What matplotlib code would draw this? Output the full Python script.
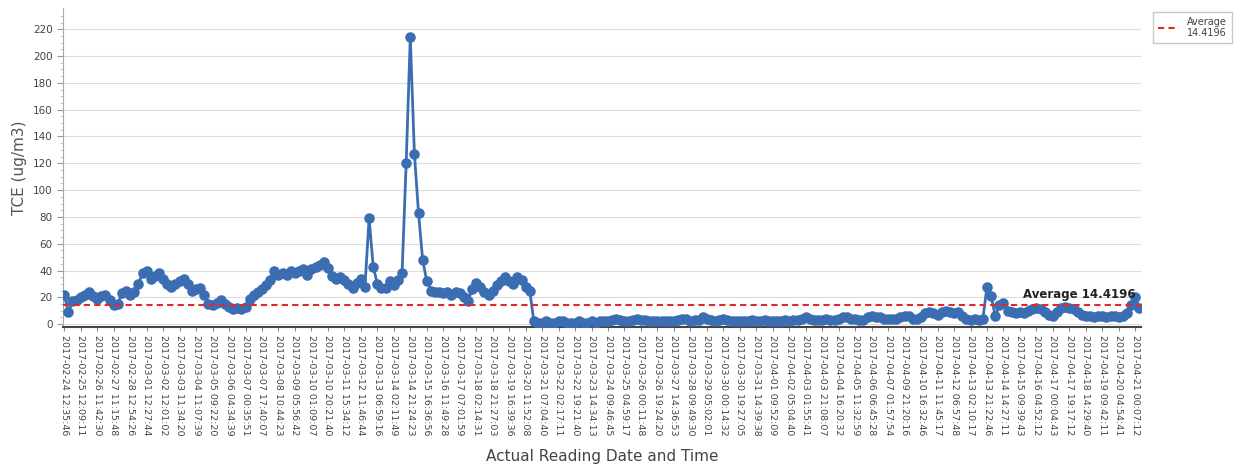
import matplotlib.pyplot as plt
import numpy as np

# tick labels (every 4th reading is labelled)
tick_labels = [
    '2017-02-24 12:35:46', '2017-02-25 12:09:11', '2017-02-26 11:42:30', '2017-02-27 11:15:48',
    '2017-02-28 12:54:26', '2017-03-01 12:27:44', '2017-03-02 12:01:02', '2017-03-03 11:34:20',
    '2017-03-04 11:07:39', '2017-03-05 09:22:20', '2017-03-06 04:34:39', '2017-03-07 00:35:51',
    '2017-03-07 17:40:07', '2017-03-08 10:44:23', '2017-03-09 05:56:42', '2017-03-10 01:09:07',
    '2017-03-10 20:21:40', '2017-03-11 15:34:12', '2017-03-12 11:46:44', '2017-03-13 06:59:16',
    '2017-03-14 02:11:49', '2017-03-14 21:24:23', '2017-03-15 16:36:56', '2017-03-16 11:49:28',
    '2017-03-17 07:01:59', '2017-03-18 02:14:31', '2017-03-18 21:27:03', '2017-03-19 16:39:36',
    '2017-03-20 11:52:08', '2017-03-21 07:04:40', '2017-03-22 02:17:11', '2017-03-22 19:21:40',
    '2017-03-23 14:34:13', '2017-03-24 09:46:45', '2017-03-25 04:59:17', '2017-03-26 00:11:48',
    '2017-03-26 19:24:20', '2017-03-27 14:36:53', '2017-03-28 09:49:30', '2017-03-29 05:02:01',
    '2017-03-30 00:14:32', '2017-03-30 19:27:05', '2017-03-31 14:39:38', '2017-04-01 09:52:09',
    '2017-04-02 05:04:40', '2017-04-03 01:55:41', '2017-04-03 21:08:07', '2017-04-04 16:20:32',
    '2017-04-05 11:32:59', '2017-04-06 06:45:28', '2017-04-07 01:57:54', '2017-04-09 21:20:16',
    '2017-04-10 16:32:46', '2017-04-11 11:45:17', '2017-04-12 06:57:48', '2017-04-13 02:10:17',
    '2017-04-13 21:22:46', '2017-04-14 14:27:11', '2017-04-15 09:39:43', '2017-04-16 04:52:12',
    '2017-04-17 00:04:43', '2017-04-17 19:17:12', '2017-04-18 14:29:40', '2017-04-19 09:42:11',
    '2017-04-20 04:54:41', '2017-04-21 00:07:12',
]

# TCE readings (ug/m3)
tce = [
    22, 9, 17, 18, 20, 22, 24, 21, 19, 21,
    22, 18, 14, 15, 23, 25, 22, 24, 30, 38,
    40, 34, 36, 38, 34, 30, 28, 30, 32, 34,
    30, 25, 26, 27, 22, 15, 14, 16, 18, 15,
    13, 11, 12, 11, 13, 19, 22, 24, 26, 29,
    33, 40, 37, 38, 37, 40, 38, 40, 41, 37,
    41, 43, 44, 46, 42, 36, 34, 35, 33, 30,
    27, 31, 34, 28, 79, 43, 30, 27, 27, 32,
    29, 33, 38, 120, 214, 127, 83, 48, 32, 25,
    24, 24, 23, 24, 22, 24, 23, 20, 17, 26,
    31, 28, 24, 22, 25, 29, 32, 35, 32, 30,
    35, 33, 28, 25, 2, 1, 1, 2, 1, 1,
    2, 2, 1, 1, 1, 2, 1, 1, 2, 1,
    2, 2, 2, 3, 4, 3, 2, 2, 3, 4,
    3, 3, 2, 2, 2, 2, 2, 2, 2, 3,
    4, 4, 2, 3, 3, 5, 4, 3, 2, 3,
    4, 3, 2, 2, 2, 2, 2, 3, 2, 2,
    3, 2, 2, 2, 2, 3, 2, 3, 3, 4,
    5, 4, 3, 3, 3, 4, 3, 3, 4, 5,
    5, 4, 4, 3, 3, 5, 6, 5, 5, 4,
    4, 4, 4, 5, 6, 6, 4, 4, 5, 8,
    9, 8, 7, 9, 10, 9, 8, 9, 6, 4,
    3, 4, 3, 4, 28, 21, 6, 14, 16, 10,
    9, 8, 9, 8, 10, 11, 12, 11, 9, 7,
    6, 9, 12, 13, 12, 11, 9, 7, 6, 6,
    5, 6, 6, 5, 6, 6, 5, 6, 8, 14,
    20, 12,
]
average = 14.4196
label_step = 4

x = np.arange(len(tce))

fig = plt.figure(figsize=(12.43, 4.72), dpi=100)
ax = fig.add_axes([0.0507, 0.307, 0.8673, 0.675])

ax.plot(x, tce, color='#3b6db3', linewidth=2.0, marker='o', markersize=7.6,
        markeredgewidth=0, zorder=3)
ax.axhline(average, color='#e02a2a', linestyle=(0, (3, 2)), linewidth=1.5, zorder=4,
           label='Average\n14.4196')
ax.text(x[-2], average + 3, 'Average 14.4196', ha='right', va='bottom',
        fontsize=8.5, fontweight='bold', color='#222222', zorder=5)

ax.set_xlim(-0.3, len(tce) - 0.6)
ax.set_ylim(-2.2, 235.5)
ax.set_yticks(np.arange(0, 221, 20))
ax.set_yticks(np.arange(0, 231, 5), minor=True)
ax.set_xticks(np.arange(0, len(tick_labels) * label_step, label_step))
ax.set_xticklabels(tick_labels, rotation=-90, fontsize=6.8, color='#444444')
ax.tick_params(axis='y', labelsize=7.5, labelcolor='#444444', color='#999999', length=4)
ax.tick_params(axis='y', which='minor', color='#bbbbbb', length=2)
ax.tick_params(axis='x', color='#888888', length=3, pad=3)

ax.grid(True, axis='y', color='#dddddd', linewidth=0.8)
ax.set_axisbelow(True)
for s in ['top', 'right']:
    ax.spines[s].set_visible(False)
ax.spines['left'].set_color('#aaaaaa')
ax.spines['bottom'].set_color('#444444')
ax.spines['bottom'].set_linewidth(1.5)

ax.set_ylabel('TCE (ug/m3)', fontsize=11, color='#555555', labelpad=4)
ax.set_xlabel('Actual Reading Date and Time', fontsize=11, color='#444444', labelpad=9)

fig.legend(loc='upper right', bbox_to_anchor=(0.995, 0.985), fontsize=7,
           frameon=True, fancybox=False, edgecolor='#bbbbbb', handlelength=2.2,
           borderpad=0.5, labelcolor='#444444')

fig.savefig('out.png', dpi=100)
